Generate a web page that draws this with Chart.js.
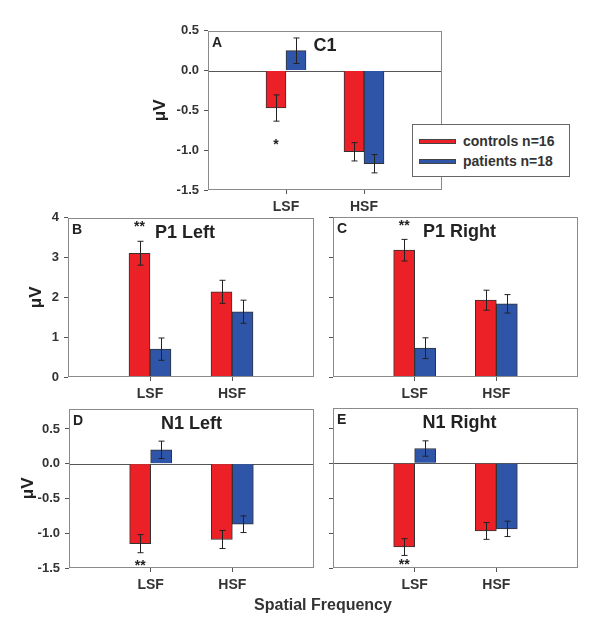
<!DOCTYPE html>
<html>
<head>
<meta charset="utf-8">
<script src="https://cdn.jsdelivr.net/npm/chart.js@4.4.0/dist/chart.umd.min.js"></script>
<style>
  body { margin: 0; background: #fff; }
  #wrap { position: relative; width: 600px; height: 626px; font-family: "Liberation Sans", Arial, sans-serif; color: #333; }
  .panel { position: absolute; }
  #legend { position: absolute; left: 412px; top: 124px; width: 156px; height: 51px; border: 1px solid #666; background: #fff; z-index: 5; }
  #legend .row { position: absolute; left: 0; font-weight: bold; font-size: 14px; line-height: 16px; white-space: nowrap; }
  #legend .sw { position: absolute; left: 6px; top: 6px; width: 35px; height: 3px; border: 1px solid #444; }
  #legend .txt { position: absolute; left: 50px; top: 0; }
  #xtitle { position: absolute; left: 223px; width: 200px; top: 596px; text-align: center; font-weight: bold; font-size: 16px; }
</style>
</head>
<body>
<div id="wrap">
  <div class="panel" id="pA"><canvas id="cA"></canvas></div>
  <div class="panel" id="pB"><canvas id="cB"></canvas></div>
  <div class="panel" id="pC"><canvas id="cC"></canvas></div>
  <div class="panel" id="pD"><canvas id="cD"></canvas></div>
  <div class="panel" id="pE"><canvas id="cE"></canvas></div>
  <div id="legend">
    <div class="row" style="top:8px"><span class="sw" id="swRed"></span><span class="txt" id="lgRed"></span></div>
    <div class="row" style="top:28px"><span class="sw" id="swBlue"></span><span class="txt" id="lgBlue"></span></div>
  </div>
  <div id="xtitle">Spatial Frequency</div>
</div>
<script>
const categories = ['LSF', 'HSF'];
const seriesNames = ['controls n=16', 'patients n=18'];

// C1
const c1Controls = [-0.47, -1.02];
const c1Patients = [0.25, -1.17];
const c1ControlsErr = [0.165, 0.115];
const c1PatientsErr = [0.16, 0.115];
const c1Ticks = [-1.5, -1.0, -0.5, 0.0, 0.5];

// P1 left / right
const p1LeftControls = [3.11, 2.14];
const p1LeftPatients = [0.70, 1.64];
const p1LeftControlsErr = [0.30, 0.29];
const p1LeftPatientsErr = [0.28, 0.29];
const p1RightControls = [3.17, 1.92];
const p1RightPatients = [0.72, 1.83];
const p1RightControlsErr = [0.27, 0.25];
const p1RightPatientsErr = [0.26, 0.23];
const p1Ticks = [0, 1, 2, 3, 4];

// N1 left / right
const n1LeftControls = [-1.15, -1.09];
const n1LeftPatients = [0.20, -0.87];
const n1LeftControlsErr = [0.13, 0.13];
const n1LeftPatientsErr = [0.125, 0.12];
const n1RightControls = [-1.20, -0.97];
const n1RightPatients = [0.21, -0.94];
const n1RightControlsErr = [0.12, 0.12];
const n1RightPatientsErr = [0.11, 0.11];
const n1Ticks = [-1.5, -1.0, -0.5, 0.0, 0.5];

// significance marks (on the controls bar)
const c1Stars = [{ cat: 'LSF', value: -0.9, text: '*' }];
const p1LeftStars = [{ cat: 'LSF', value: 3.85, text: '**' }];
const p1RightStars = [{ cat: 'LSF', value: 3.85, text: '**' }];
const n1LeftStars = [{ cat: 'LSF', value: -1.43, text: '**' }];
const n1RightStars = [{ cat: 'LSF', value: -1.41, text: '**' }];

const RED = '#ec2027';
const BLUE = '#2f55a8';
const FONT = '"Liberation Sans", Arial, sans-serif';

document.getElementById('swRed').style.background = RED;
document.getElementById('swBlue').style.background = BLUE;
document.getElementById('lgRed').textContent = seriesNames[0];
document.getElementById('lgBlue').textContent = seriesNames[1];

const panelDecor = {
  id: 'panelDecor',
  beforeDatasetsDraw(chart, args, opts) {
    if (!opts.zeroLine) return;
    const { ctx, chartArea: a, scales: { y } } = chart;
    const py = Math.round(y.getPixelForValue(0)) + 0.5;
    ctx.save();
    ctx.strokeStyle = '#555';
    ctx.lineWidth = 1;
    ctx.beginPath();
    ctx.moveTo(a.left, py);
    ctx.lineTo(a.right, py);
    ctx.stroke();
    ctx.restore();
  },
  afterDatasetsDraw(chart, args, opts) {
    const { ctx, chartArea: a, scales: { y } } = chart;
    ctx.save();
    // error bars
    ctx.strokeStyle = '#222';
    ctx.lineWidth = 1;
    chart.data.datasets.forEach((ds, di) => {
      const meta = chart.getDatasetMeta(di);
      meta.data.forEach((bar, i) => {
        const v = ds.data[i];
        if (v == null) return;
        const e = ds.errors[i];
        const x = Math.round(bar.x) + 0.5;
        const t = y.getPixelForValue(v + e);
        const b = y.getPixelForValue(v - e);
        ctx.beginPath();
        ctx.moveTo(x, t); ctx.lineTo(x, b);
        ctx.moveTo(x - 3, t); ctx.lineTo(x + 3, t);
        ctx.moveTo(x - 3, b); ctx.lineTo(x + 3, b);
        ctx.stroke();
      });
    });
    // frame
    ctx.strokeStyle = '#8a8a8a';
    ctx.strokeRect(Math.round(a.left) + 0.5, Math.round(a.top) + 0.5, Math.round(a.width) - 1, Math.round(a.height) - 1);
    // panel letter and title
    ctx.fillStyle = '#222';
    ctx.textBaseline = 'middle';
    ctx.textAlign = 'left';
    ctx.font = 'bold 14px ' + FONT;
    ctx.fillText(opts.letter, a.left + 4, a.top + 12);
    ctx.textAlign = 'center';
    ctx.font = 'bold 18px ' + FONT;
    ctx.fillText(opts.title, (a.left + a.right) / 2 + opts.titleDx, a.top + 15);
    // stars
    ctx.font = 'bold 14px ' + FONT;
    const meta0 = chart.getDatasetMeta(0);
    opts.stars.forEach(s => {
      const idx = chart.data.labels.indexOf(s.cat);
      const bar = meta0.data[idx];
      ctx.fillText(s.text, bar.x, y.getPixelForValue(s.value) + 3);
    });
    ctx.restore();
  }
};

function makePanel(id, cfg) {
  const box = document.getElementById('p' + id);
  const [pl, pt, pr, pb] = cfg.plot;
  const padT = 12, padR = 6, xH = 28;
  const left = pl - cfg.yWidth, top = pt - padT;
  box.style.left = left + 'px';
  box.style.top = top + 'px';
  box.style.width = (pr + padR - left) + 'px';
  box.style.height = (pb + xH - top) + 'px';

  const labels = ['', ...categories, ''];
  new Chart(document.getElementById('c' + id), {
    type: 'bar',
    data: {
      labels: labels,
      datasets: [{
        label: seriesNames[0],
        data: [null, ...cfg.controls, null],
        errors: [0, ...cfg.controlsErr, 0],
        backgroundColor: RED,
        borderColor: '#333',
        borderWidth: 1
      }, {
        label: seriesNames[1],
        data: [null, ...cfg.patients, null],
        errors: [0, ...cfg.patientsErr, 0],
        backgroundColor: BLUE,
        borderColor: '#333',
        borderWidth: 1
      }]
    },
    options: {
      responsive: true,
      maintainAspectRatio: false,
      animation: false,
      barThickness: cfg.barW,
      layout: { padding: { top: padT, right: padR, left: 0, bottom: 0 } },
      plugins: {
        legend: { display: false },
        tooltip: { enabled: false },
        panelDecor: { letter: cfg.letter, title: cfg.title, titleDx: cfg.titleDx, stars: cfg.stars, zeroLine: cfg.zeroLine }
      },
      scales: {
        x: {
          offset: false,
          grid: {
            offset: false,
            drawOnChartArea: false,
            tickLength: 4,
            tickColor: c => (c.tick && c.tick.label) ? '#555' : 'rgba(0,0,0,0)'
          },
          border: { display: false },
          ticks: { color: '#333', font: { family: FONT, size: 14, weight: 'bold' }, padding: 5, maxRotation: 0, autoSkip: false },
          afterFit: s => { s.height = xH; }
        },
        y: {
          min: cfg.min,
          max: cfg.max,
          afterBuildTicks: s => { s.ticks = cfg.ticks.map(v => ({ value: v })); },
          grid: { drawOnChartArea: false, tickLength: 4, tickColor: '#555' },
          border: { display: false },
          ticks: {
            display: cfg.showLabels,
            color: '#333',
            font: { family: FONT, size: 13, weight: 'bold' },
            padding: 5,
            callback: v => cfg.decimals ? Number(v).toFixed(1) : String(v)
          },
          title: {
            display: cfg.showLabels,
            text: 'μV',
            color: '#222',
            padding: 0,
            font: { family: FONT, size: 17, weight: 'bold' }
          },
          afterFit: s => { s.width = cfg.yWidth; }
        }
      }
    },
    plugins: [panelDecor]
  });
}

makePanel('A', {
  plot: [208, 30, 442, 190], yWidth: 58, barW: 20, letter: 'A', title: 'C1', titleDx: 0,
  controls: c1Controls, patients: c1Patients, controlsErr: c1ControlsErr, patientsErr: c1PatientsErr,
  min: -1.5, max: 0.5, ticks: c1Ticks, decimals: true, showLabels: true, zeroLine: true, stars: c1Stars
});
makePanel('B', {
  plot: [68, 217, 314, 377], yWidth: 42, barW: 21, letter: 'B', title: 'P1 Left', titleDx: -6,
  controls: p1LeftControls, patients: p1LeftPatients, controlsErr: p1LeftControlsErr, patientsErr: p1LeftPatientsErr,
  min: 0, max: 4, ticks: p1Ticks, decimals: false, showLabels: true, zeroLine: false, stars: p1LeftStars
});
makePanel('C', {
  plot: [333, 217, 578, 377], yWidth: 8, barW: 21, letter: 'C', title: 'P1 Right', titleDx: 4,
  controls: p1RightControls, patients: p1RightPatients, controlsErr: p1RightControlsErr, patientsErr: p1RightPatientsErr,
  min: 0, max: 4, ticks: p1Ticks, decimals: false, showLabels: false, zeroLine: false, stars: p1RightStars
});
makePanel('D', {
  plot: [69, 408, 314, 568], yWidth: 51, barW: 21, letter: 'D', title: 'N1 Left', titleDx: 0,
  controls: n1LeftControls, patients: n1LeftPatients, controlsErr: n1LeftControlsErr, patientsErr: n1LeftPatientsErr,
  min: -1.5, max: 0.79, ticks: n1Ticks, decimals: true, showLabels: true, zeroLine: true, stars: n1LeftStars
});
makePanel('E', {
  plot: [333, 408, 578, 568], yWidth: 8, barW: 21, letter: 'E', title: 'N1 Right', titleDx: 4,
  controls: n1RightControls, patients: n1RightPatients, controlsErr: n1RightControlsErr, patientsErr: n1RightPatientsErr,
  min: -1.5, max: 0.79, ticks: n1Ticks, decimals: true, showLabels: false, zeroLine: true, stars: n1RightStars
});
</script>
</body>
</html>
